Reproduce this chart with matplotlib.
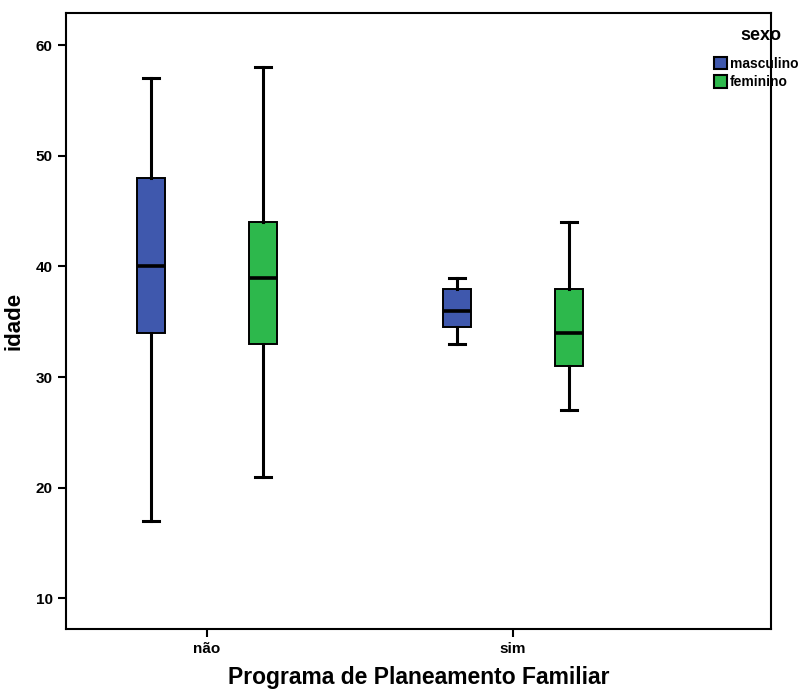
import numpy as np
import matplotlib
matplotlib.use("Agg")
from matplotlib import pyplot as plt
from matplotlib.patches import Patch

plt.rcParams['font.family'] = ['Liberation Sans', 'DejaVu Sans']

categories = ['não', 'sim']
groups = ['masculino', 'feminino']
colors = ['#3F58AD', '#2DB84C']

# five-number summaries per category, per group: (whislo, q1, med, q3, whishi)
masculino = [(17, 34, 40, 48, 57), (33, 34.5, 36, 38, 39)]
feminino = [(21, 33, 39, 44, 58), (27, 31, 34, 38, 44)]
series = [masculino, feminino]

fig = plt.figure(figsize=(8.05, 6.93), dpi=100)
ax = fig.add_axes([0.082, 0.092, 0.876, 0.889])

offsets = [-0.183, 0.183]
width = 0.092
for k, (data, col) in enumerate(zip(series, colors)):
    stats = []
    for lo, q1, med, q3, hi in data:
        stats.append(dict(whislo=lo, q1=q1, med=med, q3=q3, whishi=hi, fliers=[]))
    pos = np.arange(len(categories)) + offsets[k]
    ax.bxp(stats, positions=pos, widths=width, patch_artist=True, showfliers=False,
           boxprops=dict(facecolor=col, edgecolor='black', linewidth=1.4),
           medianprops=dict(color='black', linewidth=2.6),
           whiskerprops=dict(color='black', linewidth=2.2),
           capprops=dict(color='black', linewidth=2.2),
           capwidths=width * 0.55, manage_ticks=False)

ax.set_xlim(-0.461, 1.843)
ax.set_ylim(7.2, 62.9)
ax.set_xticks(range(len(categories)))
ax.set_xticklabels(categories, fontsize=11, fontweight='bold')
ax.set_yticks([10, 20, 30, 40, 50, 60])
ax.set_yticklabels(['10', '20', '30', '40', '50', '60'], fontsize=11, fontweight='bold')
ax.tick_params(direction='out', length=6, width=1.5)
for s in ax.spines.values():
    s.set_linewidth(1.5)

ax.set_xlabel('Programa de Planeamento Familiar', fontsize=16.5, fontweight='bold', labelpad=7)
ax.set_ylabel('idade', fontsize=16, fontweight='bold', labelpad=8)

# legend outside the axes, title drawn separately
fig.text(0.945, 1 - 35 / 693, 'sexo', ha='center', va='center', fontsize=13, fontweight='bold')
handles = [Patch(facecolor=c, edgecolor='black', linewidth=1.5) for c in colors]
fig.legend(handles, groups, loc='upper left',
           bbox_to_anchor=(0.887, 1 - 57 / 693), frameon=False, borderaxespad=0,
           borderpad=0, handlelength=0.95, handleheight=1.0, handletextpad=0.2,
           labelspacing=0.3, prop=dict(size=10, weight='bold'))

fig.savefig('out.png', dpi=100)
